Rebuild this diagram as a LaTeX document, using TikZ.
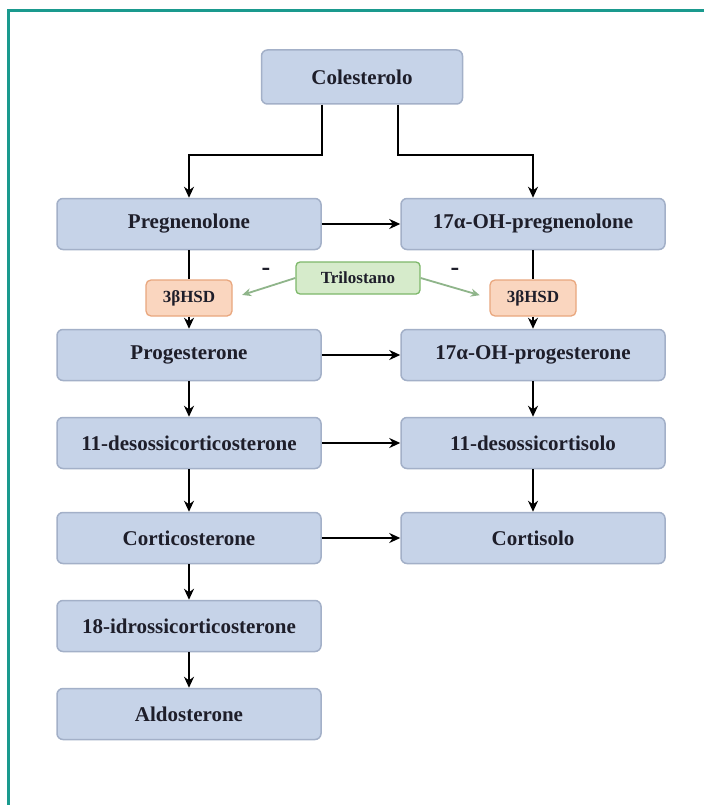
\documentclass[tikz,border=0pt]{standalone}
\usepackage{fontspec}
\setmainfont{Liberation Serif}
\usetikzlibrary{arrows.meta,calc}
\definecolor{boxfill}{HTML}{C6D3E8}
\definecolor{boxdraw}{HTML}{A3B0C8}
\definecolor{hsdfill}{HTML}{FAD6BF}
\definecolor{hsddraw}{HTML}{E9A77E}
\definecolor{trifill}{HTML}{D6EBCB}
\definecolor{tridraw}{HTML}{7DB86A}
\definecolor{frame}{HTML}{1A9A8E}
\definecolor{inhib}{HTML}{8FB58A}
\definecolor{txt}{HTML}{1E1E2A}
\tikzset{
  mainbox/.style={draw=boxdraw, fill=boxfill, line width=1.5pt, rounded corners=6pt,
    minimum width=264pt, minimum height=51pt, inner sep=0pt, text=txt,
    font=\fontsize{21}{24}\selectfont\bfseries},
  hsdbox/.style={draw=hsddraw, fill=hsdfill, line width=1.3pt, rounded corners=5pt,
    minimum width=86pt, minimum height=36pt, inner sep=0pt, text=txt,
    font=\fontsize{17}{20}\selectfont\bfseries},
  tribox/.style={draw=tridraw, fill=trifill, line width=1.3pt, rounded corners=4pt,
    minimum width=124pt, minimum height=32pt, inner sep=0pt, text=txt,
    font=\fontsize{17}{20}\selectfont\bfseries},
  conn/.style={line width=2.2pt, black, -{Stealth[length=11pt,width=10pt]}},
  plain/.style={line width=2.2pt, black},
  inh/.style={line width=1.8pt, inhib, -{Stealth[length=9pt,width=8pt]}, shorten >=10pt},
  minus/.style={font=\fontsize{26}{28}\selectfont\bfseries, text=txt, inner sep=0pt},
}
\begin{document}
\begin{tikzpicture}[x=1pt,y=-1pt]
\useasboundingbox (0,0) rectangle (704,805);
\fill[white] (0,0) rectangle (704,805);
\draw[frame, line width=3pt] (704,11) -- (8,11) -- (8,805);

\node[mainbox, minimum width=201pt, minimum height=54pt] (chol) at (362,77) {Colesterolo};
\node[mainbox] (preg) at (189,224) {Pregnenolone};
\node[mainbox] (ohpreg) at (533,224) {17α-OH-pregnenolone};
\node[hsdbox] (hsdL) at (189,298) {3βHSD};
\node[hsdbox] (hsdR) at (533,298) {3βHSD};
\node[tribox] (tril) at (358,278) {Trilostano};
\node[mainbox] (prog) at (189,355) {Progesterone};
\node[mainbox] (ohprog) at (533,355) {17α-OH-progesterone};
\node[mainbox] (doc) at (189,443) {11-desossicorticosterone};
\node[mainbox] (dcort) at (533,443) {11-desossicortisolo};
\node[mainbox] (cortic) at (189,538) {Corticosterone};
\node[mainbox] (cortis) at (533,538) {Cortisolo};
\node[mainbox] (hydro) at (189,626) {18-idrossicorticosterone};
\node[mainbox] (aldo) at (189,714) {Aldosterone};

\coordinate (cl) at (322,155);
\coordinate (cr) at (398,155);
\draw[conn] (chol.south -| cl) -- (cl) -| (preg.north);
\draw[conn] (chol.south -| cr) -- (cr) -| (ohpreg.north);

\draw[conn] (preg) -- (ohpreg);
\draw[conn] (prog) -- (ohprog);
\draw[conn] (doc) -- (dcort);
\draw[conn] (cortic) -- (cortis);

\draw[plain] (preg) -- (hsdL);
\draw[conn] (hsdL) -- (prog);
\draw[plain] (ohpreg) -- (hsdR);
\draw[conn] (hsdR) -- (ohprog);
\draw[conn] (prog) -- (doc);
\draw[conn] (doc) -- (cortic);
\draw[conn] (cortic) -- (hydro);
\draw[conn] (hydro) -- (aldo);
\draw[conn] (ohprog) -- (dcort);
\draw[conn] (dcort) -- (cortis);

\draw[inh] (tril.west) -- (hsdL.east);
\draw[inh] (tril.east) -- (hsdR.west);
\node[minus] (mL) at (266,272) {-};
\node[minus] (mR) at (455,272) {-};
\end{tikzpicture}
\end{document}
